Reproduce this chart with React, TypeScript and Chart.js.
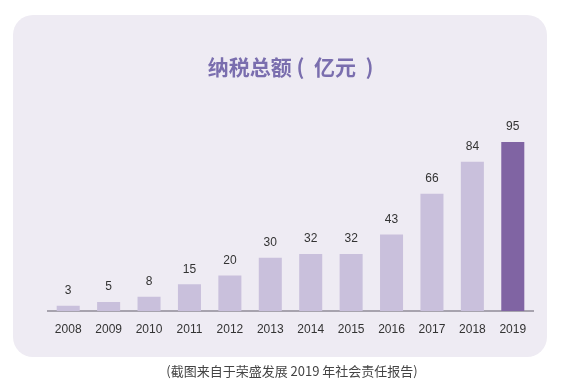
import React, { useEffect, useRef } from "react";
import { Chart, registerables } from "chart.js";

Chart.register(...registerables);

const categories: string[] = ["2008", "2009", "2010", "2011", "2012", "2013", "2014", "2015", "2016", "2017", "2018", "2019"];
const taxValues: number[] = [3, 5, 8, 15, 20, 30, 32, 32, 43, 66, 84, 95];
const titleText = "纳税总额 (  亿元  )";
const captionText = "(截图来自于荣盛发展 2019 年社会责任报告)";

const lightBar = "#c9c0dc";
const darkBar = "#8064a3";

const valueLabelPlugin = {
  id: "valueLabels",
  afterDatasetsDraw(chart: any) {
    const ctx = chart.ctx;
    const meta = chart.getDatasetMeta(0);
    ctx.save();
    ctx.font = "12px 'Liberation Sans', Arial, sans-serif";
    ctx.fillStyle = "#333333";
    ctx.textAlign = "center";
    ctx.textBaseline = "middle";
    meta.data.forEach((el: any, i: number) => {
      ctx.fillText(String(taxValues[i]), el.x, el.y - 15);
    });
    ctx.restore();
  },
};

export default function App() {
  const canvasRef = useRef<HTMLCanvasElement | null>(null);

  useEffect(() => {
    if (!canvasRef.current) return;
    const chart = new Chart(canvasRef.current, {
      type: "bar",
      data: {
        labels: categories,
        datasets: [
          {
            data: taxValues,
            backgroundColor: taxValues.map((_, i) => (i === taxValues.length - 1 ? darkBar : lightBar)),
            barPercentage: 0.57,
            categoryPercentage: 1,
            borderWidth: 0,
          },
        ],
      },
      options: {
        animation: false,
        responsive: false,
        maintainAspectRatio: false,
        layout: { padding: { left: 48, right: 30, top: 0, bottom: 0 } },
        plugins: {
          legend: { display: false },
          tooltip: { enabled: false },
          title: {
            display: true,
            text: titleText,
            color: "#7a6eae",
            font: { size: 21, weight: "bold", family: "'Noto Sans CJK SC', sans-serif", lineHeight: 1.2 },
            padding: { top: 54, bottom: 54 },
          },
        },
        scales: {
          x: {
            grid: { display: false, drawTicks: false },
            border: { display: true, color: "#a7a3ae", width: 2 },
            ticks: {
              color: "#333333",
              font: { size: 12, family: "'Liberation Sans', Arial, sans-serif" },
              padding: 11,
              maxRotation: 0,
              autoSkip: false,
            },
            afterFit(scale: any) {
              scale.height = 75;
            },
          },
          y: {
            display: false,
            min: 0,
            max: 100,
          },
        },
      },
      plugins: [valueLabelPlugin],
    });
    return () => chart.destroy();
  }, []);

  return (
    <div style={{ position: "fixed", left: 0, top: 0, width: 563, height: 386, background: "#ffffff", overflow: "hidden" }}>
      <div
        style={{
          position: "absolute",
          left: 13,
          top: 15,
          width: 534,
          height: 342,
          borderRadius: 20,
          background: "#eeebf3",
        }}
      />
      <canvas ref={canvasRef} width={563} height={386} style={{ position: "absolute", left: 0, top: 0, width: 563, height: 386 }} />
      <div
        style={{
          position: "absolute",
          left: 0,
          top: 363,
          width: 584,
          textAlign: "center",
          fontFamily: "'Noto Sans CJK SC', sans-serif",
          fontSize: 13,
          lineHeight: "16px",
          color: "#444444",
          whiteSpace: "pre",
        }}
      >
        {captionText}
      </div>
    </div>
  );
}
